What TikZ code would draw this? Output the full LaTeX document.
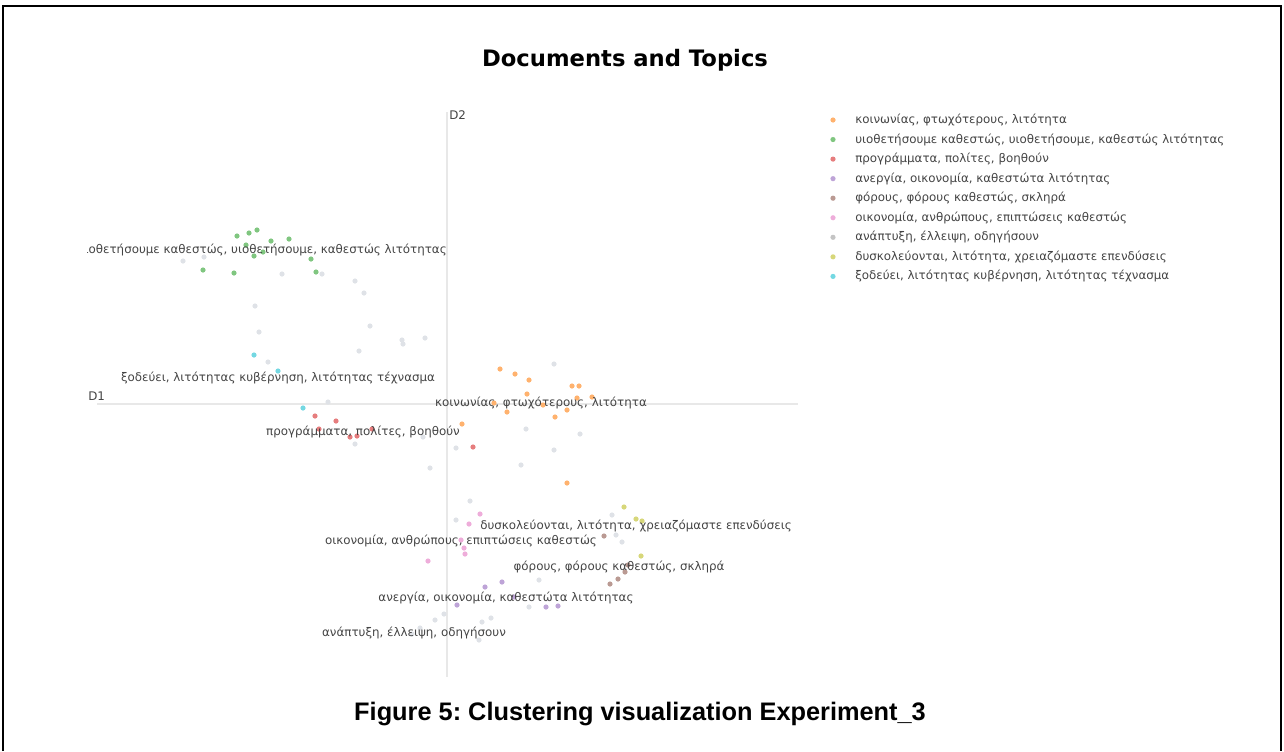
\documentclass[tikz,border=0pt]{standalone}
\usepackage{fontspec}
\setmainfont{DejaVu Sans}
\newfontfamily\capfont{Liberation Sans}
\frenchspacing
\definecolor{txt}{HTML}{444444}
\definecolor{axisgrey}{HTML}{E8E8E8}
\definecolor{cOrange}{HTML}{FFB26E}
\definecolor{cGreen}{HTML}{80C680}
\definecolor{cRed}{HTML}{E67D7E}
\definecolor{cPurple}{HTML}{BEA4D7}
\definecolor{cBrown}{HTML}{BA9A93}
\definecolor{cPink}{HTML}{EEADDA}
\definecolor{cGrey}{HTML}{DFE2E7}
\definecolor{cGreyKey}{HTML}{C4C4C4}
\definecolor{cOlive}{HTML}{D7D77A}
\definecolor{cCyan}{HTML}{74D8E2}
\tikzstyle{dot}=[circle,inner sep=0pt,minimum size=3.9pt]
\tikzstyle{topic}=[text=txt,font=\fontsize{8.9}{10.5}\selectfont,inner sep=0pt]
\tikzstyle{axis}=[draw=axisgrey,line width=1.5pt]

\begin{document}
\begin{tikzpicture}[x=0.75pt, y=-0.75pt]
    \useasboundingbox (0,0) rectangle (1284,751);
    \draw[line width=1.5pt] (3,751) -- (3,6) -- (1281,6) -- (1281,751);
    \node[font=\bfseries\fontsize{17}{20}\selectfont] (title) at (625,60) {Documents and Topics};
    % axes
    \coordinate (d1 left) at (97,404);
    \coordinate (d1 right) at (798,404);
    \coordinate (d2 top) at (447,112);
    \coordinate (d2 bottom) at (447,677);
    \draw[axis] (d1 left) -- (d1 right);
    \draw[axis] (d2 top) -- (d2 bottom);
    \node[topic, anchor=west] (d1) at (88,396) {D1};
    \node[topic, anchor=west] (d2) at (449,115) {D2};
    \begin{scope}
        \clip (87,100) rectangle (800,680);
        \foreach \x/\y [count=\i] in {183/261, 204/257, 282/274, 322/274, 355/281, 364/293, 255/306, 259/332,
            370/326, 359/351, 402/340, 403/344, 425/338, 268/362, 328/402, 423/437, 355/444, 456/448,
            430/468, 526/429, 554/364, 580/434, 554/450, 521/465, 470/501, 456/520, 612/515, 616/535,
            622/542, 539/580, 529/607, 491/618, 482/622, 444/614, 435/620, 420/628, 412/634, 479/640} {
            \node[dot, fill=cGrey] (grey\i) at (\x,\y) {};
        };
        \foreach \x/\y [count=\i] in {237/236, 249/233, 257/230, 271/241, 289/239, 246/245, 254/256,
            263/252, 311/259, 316/272, 203/270, 234/273} {
            \node[dot, fill=cGreen] (green\i) at (\x,\y) {};
        };
        \foreach \x/\y [count=\i] in {500/369, 515/374, 529/380, 527/394, 572/386, 579/386, 577/398,
            592/397, 507/412, 555/417, 567/410, 462/424, 567/483, 494/403, 543/405} {
            \node[dot, fill=cOrange] (orange\i) at (\x,\y) {};
        };
        \foreach \x/\y [count=\i] in {315/416, 336/421, 319/429, 350/437, 357/436, 372/429, 473/447} {
            \node[dot, fill=cRed] (red\i) at (\x,\y) {};
        };
        \foreach \x/\y [count=\i] in {254/355, 278/371, 303/408} {
            \node[dot, fill=cCyan] (cyan\i) at (\x,\y) {};
        };
        \foreach \x/\y [count=\i] in {480/514, 469/524, 461/540, 464/548, 465/554, 428/561} {
            \node[dot, fill=cPink] (pink\i) at (\x,\y) {};
        };
        \foreach \x/\y [count=\i] in {624/507, 636/519, 642/521, 641/556} {
            \node[dot, fill=cOlive] (olive\i) at (\x,\y) {};
        };
        \foreach \x/\y [count=\i] in {604/536, 628/565, 625/572, 618/579, 610/584} {
            \node[dot, fill=cBrown] (brown\i) at (\x,\y) {};
        };
        \foreach \x/\y [count=\i] in {502/582, 485/587, 457/605, 546/607, 558/606, 514/597} {
            \node[dot, fill=cPurple] (purple\i) at (\x,\y) {};
        };
        % cluster names
        \node[topic, anchor=east] (green name) at (447,250) {υιοθετήσουμε καθεστώς, υιοθετήσουμε, καθεστώς λιτότητας};
        \node[topic] (cyan name) at (278,378) {ξοδεύει, λιτότητας κυβέρνηση, λιτότητας τέχνασμα};
        \node[topic] (orange name) at (541,403) {κοινωνίας, φτωχότερους, λιτότητα};
        \node[topic] (red name) at (363,432) {προγράμματα, πολίτες, βοηθούν};
        \node[topic] (olive name) at (636,526) {δυσκολεύονται, λιτότητα, χρειαζόμαστε επενδύσεις};
        \node[topic] (pink name) at (461,541) {οικονομία, ανθρώπους, επιπτώσεις καθεστώς};
        \node[topic] (brown name) at (619,567) {φόρους, φόρους καθεστώς, σκληρά};
        \node[topic] (purple name) at (506,598) {ανεργία, οικονομία, καθεστώτα λιτότητας};
        \node[topic] (grey name) at (414,633) {ανάπτυξη, έλλειψη, οδηγήσουν};
    \end{scope}
    % legend
    \foreach \c/\t [count=\i] in {{cOrange/κοινωνίας, φτωχότερους, λιτότητα},
        {cGreen/υιοθετήσουμε καθεστώς, υιοθετήσουμε, καθεστώς λιτότητας},
        {cRed/προγράμματα, πολίτες, βοηθούν},
        {cPurple/ανεργία, οικονομία, καθεστώτα λιτότητας},
        {cBrown/φόρους, φόρους καθεστώς, σκληρά},
        {cPink/οικονομία, ανθρώπους, επιπτώσεις καθεστώς},
        {cGreyKey/ανάπτυξη, έλλειψη, οδηγήσουν},
        {cOlive/δυσκολεύονται, λιτότητα, χρειαζόμαστε επενδύσεις},
        {cCyan/ξοδεύει, λιτότητας κυβέρνηση, λιτότητας τέχνασμα}} {
        \node[dot, fill=\c] (key\i) at (833,{120+19.55*(\i-1)}) {};
        \node[topic, anchor=west] (entry\i) at (855,{120+19.55*(\i-1)}) {\t};
    };
    \node[font=\capfont\bfseries\fontsize{19}{22}\selectfont] (caption) at (640,714) {Figure 5: Clustering visualization Experiment\_3};
\end{tikzpicture}
\end{document}
